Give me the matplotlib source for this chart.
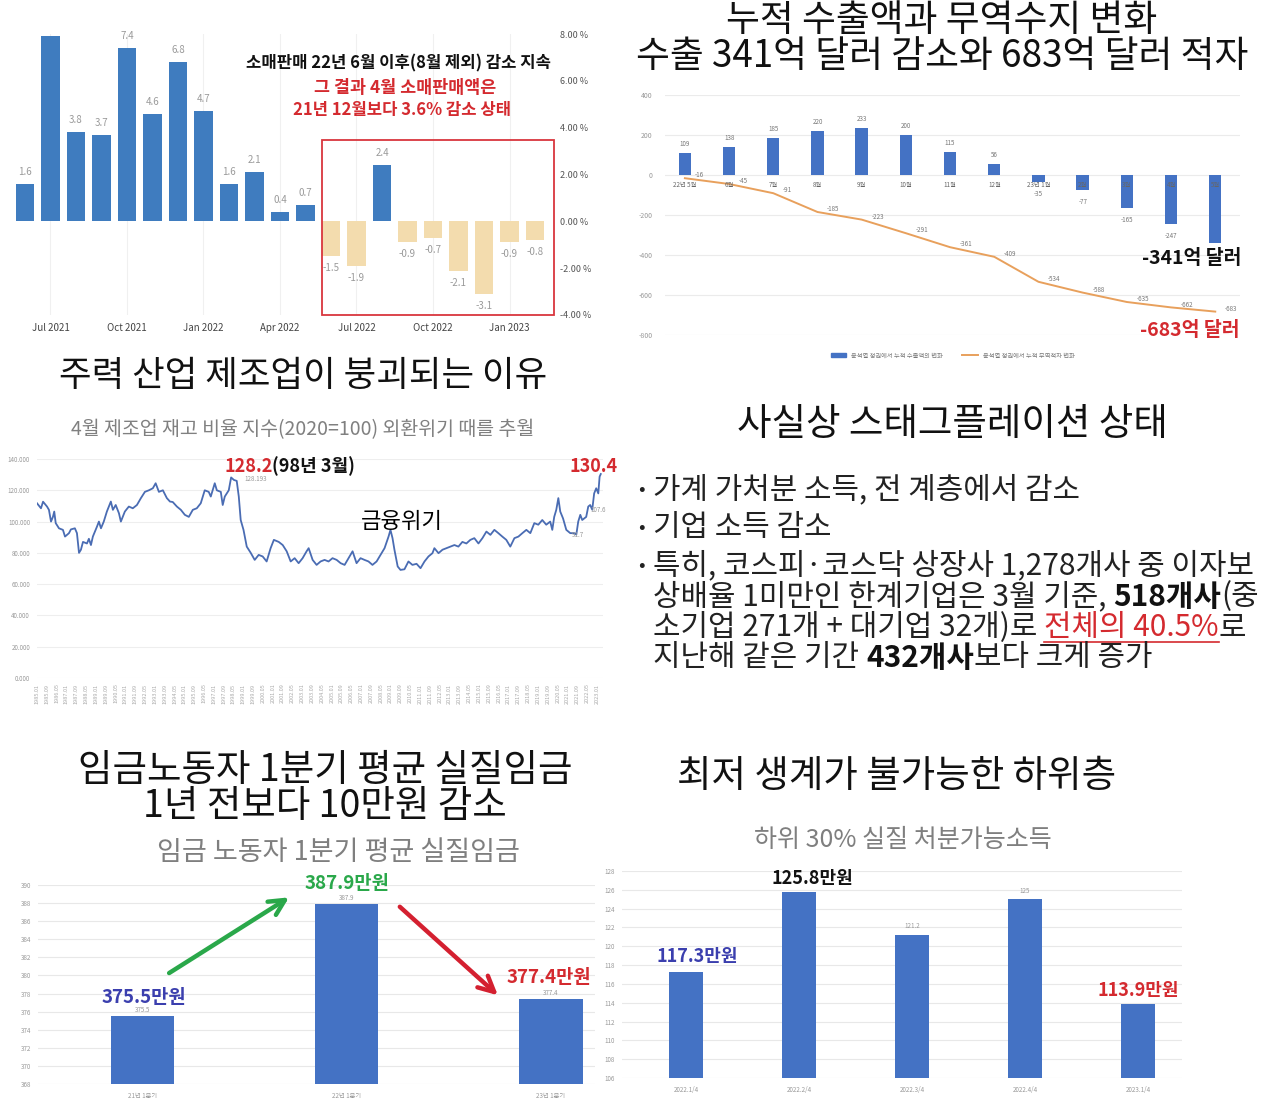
import numpy as np
import matplotlib
matplotlib.use("Agg")
import matplotlib.pyplot as plt
from matplotlib.patches import Rectangle, Patch
from matplotlib.lines import Line2D

plt.rcParams['font.family'] = ['Noto Sans CJK KR', 'DejaVu Sans']
plt.rcParams['axes.unicode_minus'] = False

W, H = 1275, 1111

# 소매판매 전월대비 증감률 (%)
retail_months = ['Jun 2021', 'Jul 2021', 'Aug 2021', 'Sep 2021', 'Oct 2021', 'Nov 2021', 'Dec 2021',
                 'Jan 2022', 'Feb 2022', 'Mar 2022', 'Apr 2022', 'May 2022', 'Jun 2022', 'Jul 2022',
                 'Aug 2022', 'Sep 2022', 'Oct 2022', 'Nov 2022', 'Dec 2022', 'Jan 2023', 'Feb 2023']
retail_change = [1.6, 7.9, 3.8, 3.7, 7.4, 4.6, 6.8, 4.7, 1.6, 2.1, 0.4, 0.7,
                 -1.5, -1.9, 2.4, -0.9, -0.7, -2.1, -3.1, -0.9, -0.8]

# 누적 수출액 / 무역수지 변화 (억 달러)
trade_months = ['22년 5월', '6월', '7월', '8월', '9월', '10월', '11월', '12월',
                '23년 1월', '2월', '3월', '4월', '5월']
export_cum = [109, 138, 185, 220, 233, 200, 115, 56, -35, -77, -165, -247, -341]
balance_cum = [-16, -45, -91, -185, -223, -291, -361, -409, -534, -588, -635, -662, -683]

# 제조업 재고율 지수 (2020=100), 그림에서 읽은 값
inv_year = [1985.00, 1985.27, 1985.41, 1985.68, 1985.81, 1985.95, 1986.08, 1986.17, 1986.27, 1986.49,
            1986.76, 1986.90, 1987.17, 1987.30, 1987.57, 1987.71, 1987.85, 1987.98, 1988.12, 1988.39,
            1988.52, 1988.66, 1988.79, 1989.07, 1989.20, 1989.34, 1989.53, 1989.74, 1990.01, 1990.15,
            1990.34, 1990.56, 1990.69, 1990.96, 1991.23, 1991.50, 1991.78, 1992.05, 1992.32, 1992.59,
            1992.86, 1993.05, 1993.27, 1993.54, 1993.81, 1994.02, 1994.21, 1994.49, 1994.76, 1995.03,
            1995.30, 1995.57, 1995.84, 1996.11, 1996.38, 1996.65, 1996.79, 1997.06, 1997.20, 1997.47,
            1997.60, 1997.74, 1998.01, 1998.17, 1998.36, 1998.55, 1998.69, 1998.82, 1999.01, 1999.23,
            1999.50, 1999.77, 2000.04, 2000.31, 2000.58, 2000.85, 2001.07, 2001.40, 2001.67, 2001.94,
            2002.21, 2002.48, 2002.75, 2003.02, 2003.29, 2003.43, 2003.70, 2003.97, 2004.24, 2004.51,
            2004.78, 2005.05, 2005.33, 2005.60, 2005.87, 2006.14, 2006.41, 2006.68, 2006.95, 2007.22,
            2007.49, 2007.76, 2008.04, 2008.31, 2008.58, 2008.85, 2008.98, 2009.12, 2009.25, 2009.47,
            2009.66, 2009.93, 2010.20, 2010.47, 2010.75, 2011.02, 2011.29, 2011.56, 2011.83, 2011.96,
            2012.24, 2012.51, 2012.78, 2013.05, 2013.32, 2013.59, 2013.86, 2014.13, 2014.40, 2014.67,
            2014.95, 2015.22, 2015.49, 2015.76, 2016.03, 2016.30, 2016.57, 2016.84, 2017.11, 2017.39,
            2017.66, 2017.93, 2018.20, 2018.47, 2018.74, 2019.01, 2019.28, 2019.55, 2019.82, 2019.96,
            2020.09, 2020.23, 2020.37, 2020.50, 2020.69, 2020.91, 2021.18, 2021.45, 2021.59, 2021.72,
            2021.86, 2021.99, 2022.26, 2022.40, 2022.53, 2022.67, 2022.80, 2022.94, 2023.08, 2023.17,
            2023.25]
inv_index = [111.7, 108.5, 112.7, 109.6, 107.5, 100.0, 103.0, 106.4, 99.0, 95.7,
             94.7, 90.4, 92.6, 95.0, 95.7, 92.6, 80.0, 82.0, 87.0, 86.0,
             89.0, 85.0, 90.4, 96.8, 100.0, 95.7, 100.0, 106.4, 112.8, 107.5,
             110.6, 105.3, 100.0, 106.4, 109.6, 108.5, 110.6, 115.0, 119.0, 120.0,
             121.3, 124.5, 119.0, 120.0, 115.0, 112.8, 112.5, 109.6, 107.5, 104.3,
             103.0, 107.5, 108.5, 111.7, 120.0, 119.0, 116.0, 124.5, 120.0, 119.0,
             110.6, 116.0, 120.0, 128.2, 126.6, 126.0, 116.0, 101.0, 94.7, 84.0,
             80.0, 75.5, 78.7, 77.7, 74.5, 83.0, 88.3, 87.0, 85.0, 81.0,
             74.5, 76.6, 73.4, 76.6, 81.0, 83.0, 75.5, 72.3, 74.5, 75.5,
             74.5, 76.6, 75.5, 73.4, 72.3, 76.6, 81.0, 73.4, 76.6, 75.5,
             74.5, 72.3, 74.5, 78.7, 83.0, 90.4, 94.7, 89.4, 82.0, 71.3,
             69.1, 69.5, 74.5, 72.3, 73.0, 70.2, 74.5, 77.7, 79.8, 83.0,
             79.8, 82.0, 83.0, 84.0, 85.0, 84.0, 87.0, 86.0, 88.3, 89.4,
             86.0, 89.4, 93.6, 91.5, 94.7, 92.6, 90.4, 88.3, 84.0, 89.4,
             90.4, 92.6, 94.7, 92.6, 99.0, 98.0, 101.0, 98.0, 100.0, 94.7,
             103.0, 107.5, 115.0, 106.4, 102.0, 94.7, 92.6, 92.6, 91.7, 100.0,
             104.3, 101.0, 103.0, 109.6, 110.6, 107.6, 118.0, 121.3, 118.0, 128.7,
             130.4]

# 임금 노동자 1분기 평균 실질임금 (만원)
wage_q = ['21년 1분기', '22년 1분기', '23년 1분기']
wage = [375.5, 387.9, 377.4]

# 하위 30% 실질 처분가능소득 (만원)
income_q = ['2022.1/4', '2022.2/4', '2022.3/4', '2022.4/4', '2023.1/4']
income = [117.3, 125.8, 121.2, 125, 113.9]

RED = '#d42a2f'
BLUE = '#4472c4'

fig = plt.figure(figsize=(W / 100, H / 100), dpi=100)
fig.patch.set_facecolor('white')


def px_axes(x0, y0, x1, y1):
    return fig.add_axes([x0 / W, 1 - y1 / H, (x1 - x0) / W, (y1 - y0) / H])


def ftext(x, y, s, **kw):
    kw.setdefault('ha', 'center')
    kw.setdefault('va', 'center')
    return fig.text(x / W, 1 - y / H, s, **kw)


def seq_text(x, y, parts, size):
    # 여러 스타일 문자열을 가로로 이어 붙이기
    r = fig.canvas.get_renderer()
    boxes = []
    for s, gap, kw in parts:
        x += gap
        t = fig.text(x / W, 1 - y / H, s, fontsize=size, ha='left', va='center', **kw)
        bb = t.get_window_extent(r)
        boxes.append(bb)
        x += bb.width
    return boxes


def clean(ax):
    for sp in ax.spines.values():
        sp.set_visible(False)
    ax.tick_params(length=0)


# ---------------- 1. 소매판매 ----------------
ax1 = px_axes(15, 34, 547, 315)
xi = np.arange(len(retail_change))
cols = ['#3f7cbf' if v >= 0 else '#f3dcae' for v in retail_change]
ax1.bar(xi, retail_change, width=0.74, color=cols, zorder=2)
ax1.set_xlim(-0.39, 20.47)
ax1.set_ylim(-4, 8)
ax1.yaxis.tick_right()
ax1.set_yticks(np.arange(-4, 9, 2))
ax1.set_yticklabels([f"{v:.2f} %" for v in np.arange(-4, 9, 2)], fontsize=6.5, color='#555')
ax1.set_xticks(xi[1::3])
ax1.set_xticklabels([retail_months[i] for i in xi[1::3]], fontsize=7, color='#444')
ax1.grid(axis='x', color='#f0f0f0', lw=0.8, zorder=0)
clean(ax1)
ax1.tick_params(axis='y', pad=9)
ax1.tick_params(axis='x', pad=6)
for i, v in enumerate(retail_change):
    if v > 7.6:   # 차트 위로 넘어가는 라벨은 원본에서도 보이지 않음
        continue
    if v >= 0:
        ax1.text(i, v + 0.3, f"{v}", ha='center', va='bottom', fontsize=7, color='#9a9a9a', clip_on=False)
    else:
        ax1.text(i, v - 0.3, f"{v}", ha='center', va='top', fontsize=7, color='#9a9a9a')
ax1.add_patch(Rectangle((11.63, -3.98), 9.12, 7.44, fill=False, edgecolor='#d9363e', lw=1.3,
                        clip_on=False, zorder=5))
ftext(398, 63, "소매판매 22년 6월 이후(8월 제외) 감소 지속", fontsize=12, weight='bold', color='#111')
ftext(405, 88, "그 결과 4월 소매판매액은", fontsize=12.5, weight='bold', color=RED)
ftext(402, 110, "21년 12월보다 3.6% 감소 상태", fontsize=12, weight='bold', color=RED)

# ---------------- 2. 누적 수출액 / 무역수지 ----------------
ftext(942, 21, "누적 수출액과 무역수지 변화", fontsize=26.5, color='#111')
ftext(942, 57, "수출 341억 달러 감소와 683억 달러 적자", fontsize=26.5, color='#111')
ax2 = px_axes(665, 95, 1240, 335)
xt = np.arange(len(export_cum))
ax2.bar(xt, export_cum, width=0.28, color=BLUE, zorder=2)
ax2.plot(xt, balance_cum, color='#e8a05c', lw=1.4, zorder=3)
ax2.set_ylim(-800, 400)
ax2.set_xlim(-0.45, 12.56)
ax2.set_yticks(np.arange(-800, 401, 200))
ax2.set_yticklabels([str(v) for v in np.arange(-800, 401, 200)], fontsize=5, color='#999')
ax2.set_xticks([])
ax2.grid(axis='y', color='#ebebeb', lw=0.8, zorder=0)
clean(ax2)
ax2.tick_params(axis='y', pad=9)
for i, m in enumerate(trade_months):
    ax2.text(i, -52, m, ha='center', va='center', fontsize=4.5, color='#666', zorder=4)
for i, v in enumerate(export_cum[:-1]):
    if v >= 0:
        ax2.text(i, v + 45, str(v), ha='center', va='center', fontsize=4.5, color='#777')
    else:
        ax2.text(i, v - 58, str(v), ha='center', va='center', fontsize=4.5, color='#777')
for i, v in enumerate(balance_cum):
    ax2.annotate(str(v), (i, v), xytext=(7, 2), textcoords='offset points', fontsize=4.5,
                 color='#777', va='center')
ax2.legend([Patch(color=BLUE), Line2D([0], [0], color='#e8a05c', lw=1.4)],
           ['윤석열 정권에서 누적 수출액의 변화', '윤석열 정권에서 누적 무역적자 변화'],
           loc='upper center', bbox_to_anchor=(0.5, -0.045), ncol=2, frameon=False,
           fontsize=4.5, labelcolor='#777', handlelength=2.5, columnspacing=3)
ftext(1192, 258, "-341억 달러", fontsize=14, weight='bold', color='#111')
ftext(1190, 330, "-683억 달러", fontsize=14, weight='bold', color=RED)

# ---------------- 3. 제조업 재고율 ----------------
ftext(303, 376, "주력 산업 제조업이 붕괴되는 이유", fontsize=25.5, color='#111')
ftext(303, 430, "4월 제조업 재고 비율 지수(2020=100) 외환위기 때를 추월", fontsize=14, color='#808080')
ax3 = px_axes(37, 459, 603, 678)
ax3.plot(inv_year, inv_index, color='#4a6cb3', lw=1.3, zorder=3)
ax3.set_ylim(0, 140)
ax3.set_xlim(1985.0, 2023.4)
ax3.set_yticks(np.arange(0, 141, 20))
ax3.set_yticklabels([f"{v:.3f}" for v in np.arange(0, 141, 20)], fontsize=4.5, color='#999')
tick_m = list(range(0, 460, 8))
ax3.set_xticks([1985 + m / 12 for m in tick_m])
ax3.set_xticklabels([f"{1985 + m // 12}.{m % 12 + 1:02d}" for m in tick_m], rotation=90,
                    fontsize=4, color='#aaa')
ax3.grid(axis='y', color='#eeeeee', lw=0.8, zorder=0)
clean(ax3)
ax3.tick_params(axis='y', pad=5)
ax3.tick_params(axis='x', pad=4)
seq_text(224, 466, [("128.2", 0, dict(color=RED, weight='bold')),
                    ("(98년 3월)", 0, dict(color='#111', weight='bold'))], 13)
ftext(594, 466, "130.4", fontsize=13, weight='bold', color=RED)
ftext(244, 479, "128.193", fontsize=4.5, color='#999', ha='left')
ftext(590, 510, "107.6", fontsize=4.5, color='#999', ha='left')
ftext(572, 535, "91.7", fontsize=4.5, color='#999', ha='left')
ftext(402, 521, "금융위기", fontsize=16, color='#000')

# ---------------- 4. 스태그플레이션 텍스트 ----------------
ftext(952, 424, "사실상 스태그플레이션 상태", fontsize=27, color='#111')
BODY = 21.5
bx, tx = 638, 653
for y in [490, 527, 566]:
    ftext(bx, y, "•", fontsize=14, color='#222', ha='left')
ftext(tx, 490, "가계 가처분 소득, 전 계층에서 감소", fontsize=BODY, color='#222', ha='left')
ftext(tx, 527, "기업 소득 감소", fontsize=BODY, color='#222', ha='left')
ftext(tx, 566, "특히, 코스피·코스닥 상장사 1,278개사 중 이자보", fontsize=BODY, color='#222', ha='left')
seq_text(tx, 597, [("상배율 1미만인 한계기업은 3월 기준,", 0, dict(color='#222')),
                   ("518개사", 7, dict(color='#111', weight='bold')),
                   ("(중", 0, dict(color='#222'))], BODY)
bbs = seq_text(tx, 628, [("소기업 271개 + 대기업 32개)로", 0, dict(color='#222')),
                         ("전체의 40.5%", 7, dict(color=RED)),
                         ("로", 0, dict(color='#222'))], BODY)
ub = bbs[1]
fig.add_artist(Line2D([ub.x0 / W, ub.x1 / W], [(ub.y0 + 2) / H] * 2, color=RED, lw=1.2))
seq_text(tx, 658, [("지난해 같은 기간", 0, dict(color='#222')),
                   ("432개사", 7, dict(color='#111', weight='bold')),
                   ("보다 크게 증가", 0, dict(color='#222'))], BODY)

# ---------------- 5. 실질임금 ----------------
ftext(325, 770, "임금노동자 1분기 평균 실질임금", fontsize=27, color='#111')
ftext(325, 806, "1년 전보다 10만원 감소", fontsize=27, color='#111')
ftext(338, 852, "임금 노동자 1분기 평균 실질임금", fontsize=19.5, color='#7f7f7f')
ax5 = px_axes(38, 885, 595, 1084)
xw = np.arange(len(wage))
ax5.bar(xw, wage, width=0.31, color=BLUE, zorder=2)
ax5.set_ylim(368, 390)
ax5.set_xlim(-0.51, 2.215)
ax5.set_yticks(np.arange(368, 391, 2))
ax5.set_yticklabels([str(v) for v in np.arange(368, 391, 2)], fontsize=4.5, color='#999')
ax5.set_xticks(xw)
ax5.set_xticklabels(wage_q, fontsize=4.5, color='#999')
ax5.grid(axis='y', color='#e8e8e8', lw=0.8, zorder=0)
clean(ax5)
ax5.tick_params(axis='y', pad=5)
ax5.tick_params(axis='x', pad=6)
for i, v in enumerate(wage):
    ax5.text(i, v + 0.2, f"{v}", ha='center', va='bottom', fontsize=4.5, color='#999')
ax5.text(0.01, 377.6, "375.5만원", ha='center', va='center', fontsize=13.5, weight='bold', color='#3b3fae')
ax5.text(1.0, 390.2, "387.9만원", ha='center', va='center', fontsize=13.5, weight='bold', color='#2aa84a',
         clip_on=False)
ax5.text(1.99, 379.8, "377.4만원", ha='center', va='center', fontsize=13.5, weight='bold', color=RED)
ax5.annotate('', xy=(0.73, 388.8), xytext=(0.12, 380.1), annotation_clip=False,
             arrowprops=dict(arrowstyle='->', lw=3.2, color='#2aa84a', mutation_scale=28))
ax5.annotate('', xy=(1.75, 377.6), xytext=(1.25, 387.8), annotation_clip=False,
             arrowprops=dict(arrowstyle='->', lw=3.2, color='#d42030', mutation_scale=28))

# ---------------- 6. 하위 30% 처분가능소득 ----------------
ftext(897, 777, "최저 생계가 불가능한 하위층", fontsize=27, color='#111')
ftext(903, 840, "하위 30% 실질 처분가능소득", fontsize=18, color='#7f7f7f')
ax6 = px_axes(622, 871, 1182, 1078)
xq = np.arange(len(income))
ax6.bar(xq, income, width=0.3, color=BLUE, zorder=2)
ax6.set_ylim(106, 128)
ax6.set_xlim(-0.57, 4.39)
ax6.set_yticks(np.arange(106, 129, 2))
ax6.set_yticklabels([str(v) for v in np.arange(106, 129, 2)], fontsize=4.5, color='#999')
ax6.set_xticks(xq)
ax6.set_xticklabels(income_q, fontsize=4.5, color='#999')
ax6.grid(axis='y', color='#e8e8e8', lw=0.8, zorder=0)
clean(ax6)
ax6.tick_params(axis='y', pad=5)
ax6.tick_params(axis='x', pad=6)
# 큰 라벨이 붙은 막대는 작은 값 라벨이 가려져 있음
big_labels = {0: (0.1, 118.9, "117.3만원", '#3b3fae'),
              1: (1.12, 127.15, "125.8만원", '#111'),
              4: (4.0, 115.25, "113.9만원", RED)}
for i, v in enumerate(income):
    if i in big_labels:
        bx6, by6, s, c = big_labels[i]
        ax6.text(bx6, by6, s, ha='center', va='center', fontsize=13, weight='bold', color=c)
    else:
        ax6.text(i, v + 0.5, f"{v}", ha='center', va='bottom', fontsize=4.5, color='#999')

fig.savefig("out.png", dpi=100, facecolor='white')
